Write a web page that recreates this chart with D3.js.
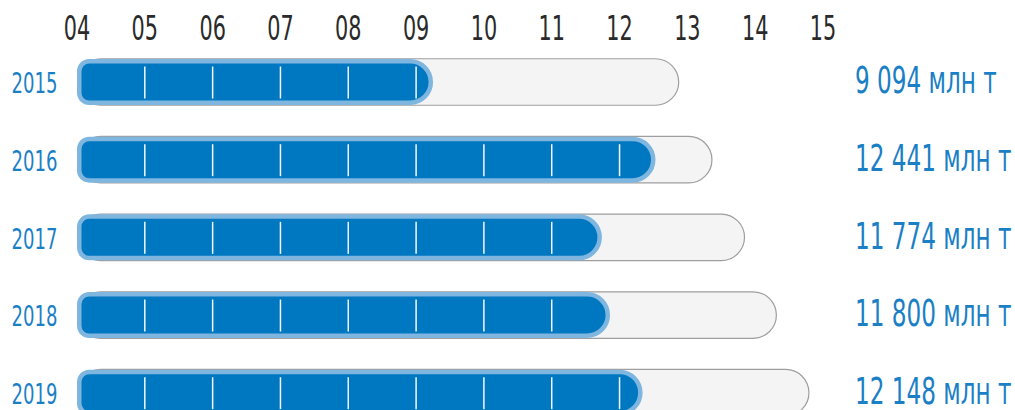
<!DOCTYPE html>
<html>
<head>
<meta charset="utf-8">
<script src="https://cdn.jsdelivr.net/npm/d3@7"></script>
<style>
  html, body { margin: 0; padding: 0; background: #ffffff; }
  svg { display: block; }
  text { font-family: "DejaVu Sans Condensed", "DejaVu Sans", sans-serif; }
</style>
</head>
<body>
<svg id="chart" width="1015" height="410"></svg>
<script>
// ---- data ----
const years = ["2015", "2016", "2017", "2018", "2019"];
const valueLabels = [9094, 12441, 11774, 11800, 12148];           // млн т (labels on the right)
const barEnds = [9.25, 12.53, 11.74, 11.86, 12.34];                // where the blue bar ends on the axis
const trackEnds = [12.88, 13.37, 13.85, 14.32, 14.80];             // where the grey track ends
const tickValues = [4, 5, 6, 7, 8, 9, 10, 11, 12, 13, 14, 15];
const tickLabels = ["04", "05", "06", "07", "08", "09", "10", "11", "12", "13", "14", "15"];
const unit = "млн т";

// ---- layout / style ----
const axisStart = 4;
const FAMILY = '"DejaVu Sans Condensed", "DejaVu Sans", sans-serif';
const svg = d3.select("#chart");
const x = d3.scaleLinear().domain([4, 15]).range([77, 823]);
const y = d3.scalePoint().domain(years).range([82, 392.7]);

const blueFill = "#0077c1";
const blueEdge = "#7eb6e0";
const labelBlue = "#1b7fc6";

const fmt = v => d3.format(",")(v).replace(/,/g, " ");

// condensed look: font size from ink height, horizontal squeeze from ink width
const ctx = document.createElement("canvas").getContext("2d");
function fit(sample, inkH, inkW) {
  ctx.font = `100px ${FAMILY}`;
  const m = ctx.measureText(sample);
  const h = m.actualBoundingBoxAscent;
  const w = m.actualBoundingBoxLeft + m.actualBoundingBoxRight;
  const size = 100 * inkH / h;
  return { size, sx: inkW / (w * size / 100) };
}
const fAxis = fit("04", 25, 24.3);
const fYear = fit("2015", 21.6, 43.3);
const fVal = fit("9 094 " + unit, 28, 140);

// axis labels at top
svg.append("g").selectAll("text")
  .data(tickValues)
  .join("text")
  .attr("transform", d => `translate(${x(d)},40) scale(${fAxis.sx},1)`)
  .attr("text-anchor", "middle")
  .attr("font-size", fAxis.size)
  .attr("fill", "#2a2a2a")
  .text((d, i) => tickLabels[i]);

const rows = svg.append("g").selectAll("g")
  .data(years.map((yr, i) => ({ yr, i, value: valueLabels[i], end: barEnds[i], track: trackEnds[i] })))
  .join("g");

// grey tracks
const trackH = 46.5;
rows.append("rect")
  .attr("x", x(axisStart) + 0.5)
  .attr("y", d => y(d.yr) - trackH / 2)
  .attr("width", d => x(d.track) - x(axisStart) - 1)
  .attr("height", trackH)
  .attr("rx", trackH / 2)
  .attr("fill", "#f4f4f4")
  .attr("stroke", "#9e9e9e")
  .attr("stroke-width", 1.2);

// blue bars: rounded corners on the left, semicircle on the right
const sw = 4.5;
const barH = 46;
function barPath(x0, x1, cy, h, rl) {
  const t = cy - h / 2, b = cy + h / 2, r = h / 2;
  const p = d3.path();
  p.moveTo(x0 + rl, t);
  p.lineTo(x1 - r, t);
  p.arc(x1 - r, cy, r, -Math.PI / 2, Math.PI / 2);
  p.lineTo(x0 + rl, b);
  p.arcTo(x0, b, x0, b - rl, rl);
  p.lineTo(x0, t + rl);
  p.arcTo(x0, t, x0 + rl, t, rl);
  p.closePath();
  return p.toString();
}
rows.append("path")
  .attr("d", d => barPath(x(axisStart) + sw / 2, x(d.end) - sw / 2, y(d.yr), barH - sw, 10))
  .attr("fill", blueFill)
  .attr("stroke", blueEdge)
  .attr("stroke-width", sw);

// white divider ticks inside the blue bars
rows.each(function(d) {
  const ks = tickValues.filter(k => k > axisStart && k < d.end);
  d3.select(this).selectAll("line.div")
    .data(ks)
    .join("line")
    .attr("class", "div")
    .attr("x1", k => x(k)).attr("x2", k => x(k))
    .attr("y1", y(d.yr) - 15.5).attr("y2", y(d.yr) + 16.5)
    .attr("stroke", "#f4f9fd")
    .attr("stroke-width", 1.5);
});

// year labels
rows.append("text")
  .attr("transform", d => `translate(57.5,${y(d.yr) + 11.3}) scale(${fYear.sx},1)`)
  .attr("text-anchor", "end")
  .attr("font-size", fYear.size)
  .attr("fill", labelBlue)
  .text(d => d.yr);

// value labels
rows.append("text")
  .attr("transform", d => `translate(855,${y(d.yr) + 11.3}) scale(${fVal.sx},1)`)
  .attr("text-anchor", "start")
  .attr("font-size", fVal.size)
  .attr("fill", labelBlue)
  .text(d => `${fmt(d.value)} ${unit}`);
</script>
</body>
</html>
